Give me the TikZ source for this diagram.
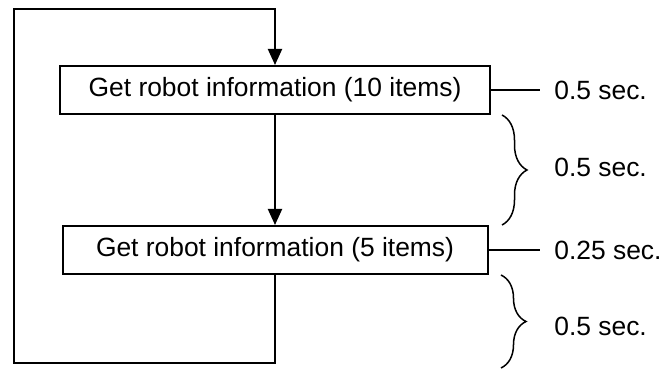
\documentclass[tikz,border=0pt]{standalone}
\usepackage{fontspec}
\setmainfont{Liberation Sans}
\usetikzlibrary{arrows.meta,decorations.pathreplacing}
\begin{document}
\begin{tikzpicture}[x=0.5pt,y=-0.5pt,
  infobox/.style={draw, line width=1pt, minimum width=215pt, minimum height=24pt, inner sep=0pt, font=\fontsize{13.2}{15}\selectfont},
  timelabel/.style={anchor=west, inner xsep=7pt, inner ysep=0pt, font=\fontsize{13.2}{15}\selectfont},
  flow/.style={line width=1pt, -{Triangle[width=7pt,length=8pt]}},
  tick/.style={line width=0.75pt},
  span/.style={line width=0.75pt, decorate, decoration={brace, amplitude=12.5pt}}]
\useasboundingbox (0,0) rectangle (666,369);
\node[infobox] (info10) at (275,90) {Get robot information (10 items)};
\node[infobox, minimum width=212.5pt] (info5) at (275,250) {Get robot information (5 items)};
\node[timelabel] (t10) at (540,90) {0.5 sec.};
\node[timelabel] (gap1) at (540,167) {0.5 sec.};
\node[timelabel] (t5) at (540,250) {0.25 sec.};
\node[timelabel] (gap2) at (540,326) {0.5 sec.};
\coordinate (loopbl) at (14,363);
\coordinate (looptl) at (14,9);
\coordinate (end5) at (501,368);
\draw[flow] (info10.south) -- (info10.south |- info5.north);
\draw[flow] (info5.south) |- (loopbl) -- (looptl) -| (info10.north);
\draw[tick] (info10.east) -- (t10.west);
\draw[tick] (info5.east) -- (t5.west);
% braces for the waiting times
\draw[span] ([xshift=5.5pt]info10.south east) -- ([xshift=5.5pt]info10.south east |- info5.north);
\draw[span] (info5.south east -| end5) -- (end5);
\end{tikzpicture}
\end{document}
